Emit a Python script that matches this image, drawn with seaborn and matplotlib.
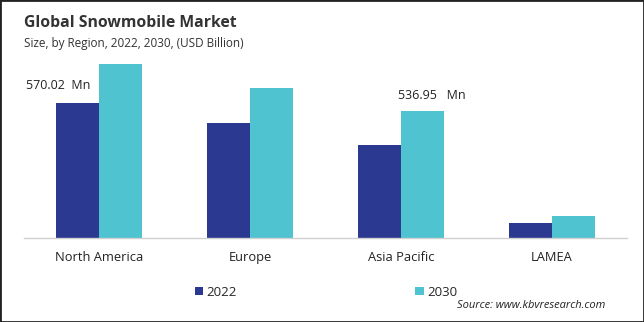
import matplotlib
matplotlib.use("Agg")
import matplotlib.pyplot as plt
import seaborn as sns
import pandas as pd
from matplotlib.patches import Rectangle, Patch

regions = ["North America", "Europe", "Asia Pacific", "LAMEA"]
years = ["2022", "2030"]
values_2022 = [570.02, 485, 392, 64]
values_2030 = [733, 632, 536.95, 94]
colors = ["#2B3990", "#4FC3CF"]

df = pd.DataFrame({
    "Region": regions * 2,
    "Year": [years[0]] * 4 + [years[1]] * 4,
    "Value": values_2022 + values_2030,
})

sns.set_theme(style="white")
plt.rcParams["font.family"] = ["Open Sans", "DejaVu Sans"]

fig = plt.figure(figsize=(6.44, 3.22), dpi=100)
ax = fig.add_axes([0.0365, 0.26, 0.9375, 0.585])
sns.barplot(data=df, x="Region", y="Value", hue="Year", palette=colors,
            width=0.57, ax=ax, legend=False, saturation=1, linewidth=0)
ax.set_ylim(0, 792)
ax.set_xlim(-0.5, 3.5)
ax.set_xlabel("")
ax.set_ylabel("")
ax.set_yticks([])
for s in ["top", "right", "left"]:
    ax.spines[s].set_visible(False)
ax.spines["bottom"].set_color("#D0D0D0")
ax.spines["bottom"].set_linewidth(1)
ax.tick_params(axis="x", length=0, pad=9, labelsize=9.3, colors="#222222")

# annotations
bars = ax.patches
na22 = bars[0]
ap30 = bars[6]
ax.annotate(f"{values_2022[0]:.2f}  Mn",
            xy=(na22.get_x() + na22.get_width() / 2, na22.get_height()),
            xytext=(-14, 7.5), textcoords="offset points", ha="center", va="bottom",
            fontsize=9, color="#222222")
ax.annotate(f"{values_2030[2]:.2f}   Mn",
            xy=(ap30.get_x() + ap30.get_width() / 2, ap30.get_height()),
            xytext=(7, 6), textcoords="offset points", ha="center", va="bottom",
            fontsize=9, color="#222222")

fig.text(0.037, 0.93, "Global Snowmobile Market", fontsize=11.3, fontweight="bold",
         color="#333333", va="center")
fig.text(0.037, 0.865, "Size, by Region, 2022, 2030, (USD Billion)", fontsize=8.5,
         color="#333333", va="center")

handles = [Patch(facecolor=c, edgecolor="none") for c in colors]
fig.legend(handles, years, loc="center", bbox_to_anchor=(0.506, 0.093),
           ncol=2, frameon=False, fontsize=9.5, handlelength=0.65, handleheight=0.65,
           handletextpad=0.25, columnspacing=13.5)

fig.text(0.94, 0.05, "Source: www.kbvresearch.com", fontsize=8, style="italic",
         ha="right", va="center", color="#222222")

fig.patches.append(Rectangle((0, 0), 1, 1, transform=fig.transFigure, fill=False,
                             edgecolor="#222222", linewidth=2, zorder=10))

fig.savefig("out.png", dpi=100)
